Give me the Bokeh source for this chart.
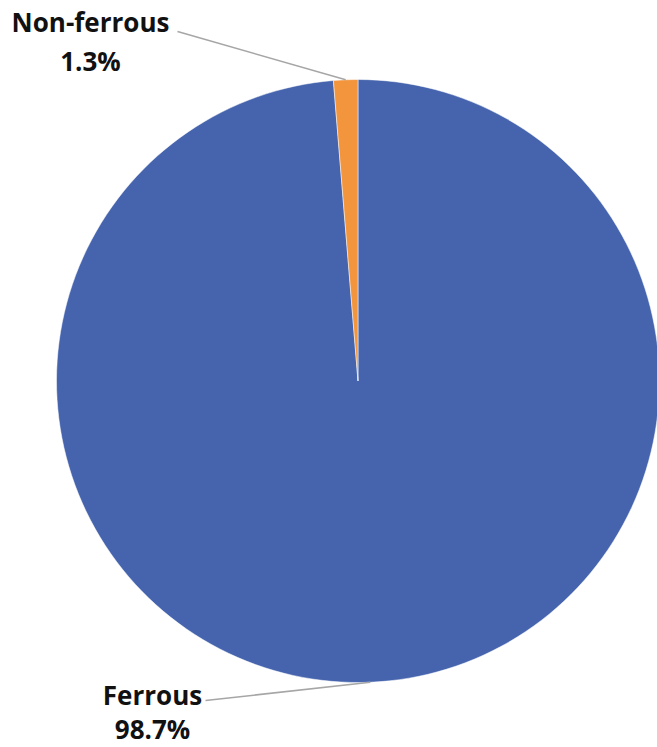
import numpy as np
from bokeh.plotting import figure
from bokeh.models import Range1d, ColumnDataSource
from bokeh.core.properties import value
from bokeh.embed import file_html
from bokeh.resources import INLINE

categories = ["Ferrous", "Non-ferrous"]
shares = [98.7, 1.3]
colors = ["#4564AD", "#F2953D"]
pct_labels = ["98.7%", "1.3%"]

W, H = 657, 747
cx, cy, r = 357.5, H - 380.5, 301.5

p = figure(width=W, height=H, x_range=Range1d(0, W), y_range=Range1d(0, H),
           output_backend="svg", toolbar_location=None, min_border=0)
p.axis.visible = False
p.grid.visible = False
p.outline_line_color = None
p.background_fill_color = "white"
p.border_fill_color = "white"

# Excel-style: start at 12 o'clock going clockwise
fr = np.array(shares) / sum(shares)
ends = np.pi / 2 - np.concatenate([[0], np.cumsum(fr)[:-1]]) * 2 * np.pi
starts = ends - fr * 2 * np.pi
mids = (starts + ends) / 2
src = ColumnDataSource(dict(start=starts, end=ends, color=colors, cat=categories))
p.wedge(x=cx, y=cy, radius=r, start_angle="start", end_angle="end",
        fill_color="color", line_color="white", line_width=0.5, source=src)

# leader lines from slice mid-angle on rim to label
ex = cx + r * np.cos(mids)
ey = cy + r * np.sin(mids)
label_anchor = {"Ferrous": (205, H - 700), "Non-ferrous": (177, H - 31)}
label_pos = {"Ferrous": (152, H - 694, H - 728), "Non-ferrous": (90, H - 21, H - 60)}
for i, c in enumerate(categories):
    ax, ay = label_anchor[c]
    p.line([ax, ex[i]], [ay, ey[i]], line_color="#A6A6A6", line_width=1.5)
    lx, ly1, ly2 = label_pos[c]
    p.text(x=[lx, lx], y=[ly1, ly2], text=[c, pct_labels[i]],
           text_font=value("Open Sans"), text_font_style="bold",
           text_font_size="26px", text_align="center",
           text_baseline="middle", text_color="#111111")

open("out.html", "w").write(file_html(p, INLINE))
